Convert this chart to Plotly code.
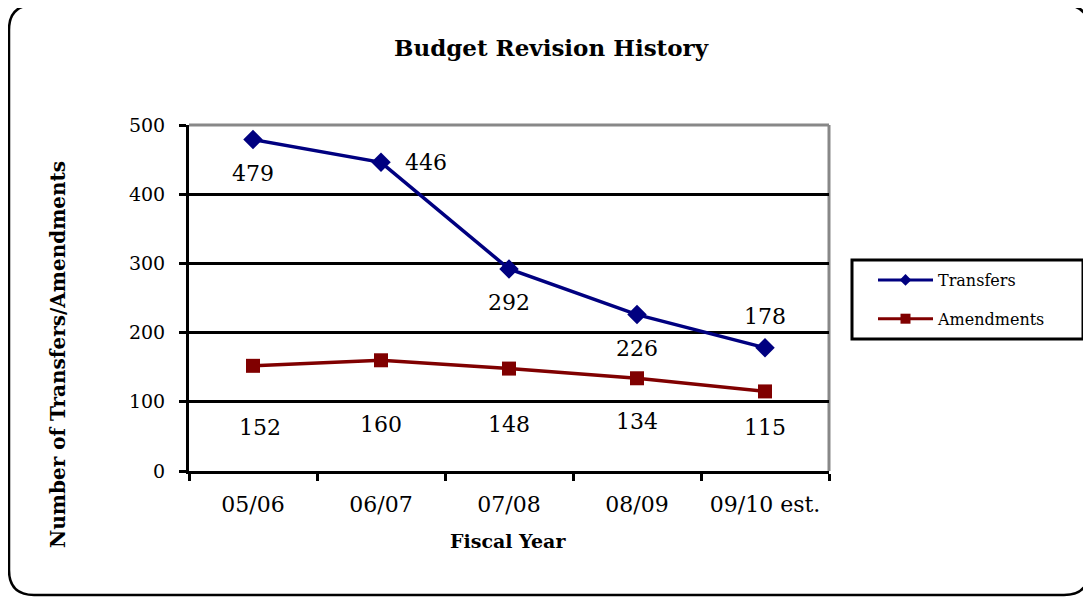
import plotly.graph_objects as go

years = ["05/06", "06/07", "07/08", "08/09", "09/10 est."]
transfers = [479, 446, 292, 226, 178]
amendments = [152, 160, 148, 134, 115]
y_ticks = [0, 100, 200, 300, 400, 500]

# label offsets in pixels (style only)
transfer_shift = [(0, -34), (45, 0), (0, -34), (0, -34), (0, 31)]
amend_shift = [(7, -62), (0, -64), (0, -56), (0, -43), (0, -36)]

FONT = "DejaVu Serif"
OFF = 8  # page body margin
W, H = 1091, 598
# plot area in screen pixels
L, R, T, B = 189, 829, 125, 471


def px(x):
    return (x - L) / (R - L)


def py(y):
    return (B - y) / (B - T)


fig = go.Figure()
fig.add_trace(go.Scatter(
    x=years, y=transfers, name="Transfers", mode="lines+markers",
    line=dict(color="#000080", width=3.5),
    marker=dict(symbol="diamond", size=15, color="#000080"),
    showlegend=False,
))
fig.add_trace(go.Scatter(
    x=years, y=amendments, name="Amendments", mode="lines+markers",
    line=dict(color="#800000", width=3.5),
    marker=dict(symbol="square", size=14, color="#800000"),
    showlegend=False,
))
# legend entries (smaller markers, like the reference)
fig.add_trace(go.Scatter(
    x=[None], y=[None], name="Transfers", mode="lines+markers",
    line=dict(color="#000080", width=3),
    marker=dict(symbol="diamond", size=9, color="#000080"),
    legendgroup="t",
))
fig.add_trace(go.Scatter(
    x=[None], y=[None], name="Amendments", mode="lines+markers",
    line=dict(color="#800000", width=3),
    marker=dict(symbol="square", size=10, color="#800000"),
    legendgroup="a",
))

annotations = []
for xv, yv, (dx, dy) in zip(years, transfers, transfer_shift):
    annotations.append(dict(x=xv, y=yv, text=str(yv), showarrow=False,
                            xshift=dx, yshift=dy,
                            font=dict(family=FONT, size=22, color="#000")))
for xv, yv, (dx, dy) in zip(years, amendments, amend_shift):
    annotations.append(dict(x=xv, y=yv, text=str(yv), showarrow=False,
                            xshift=dx, yshift=dy,
                            font=dict(family=FONT, size=22, color="#000")))

annotations.append(dict(xref="paper", yref="paper", x=px(58), y=py(355),
                        xanchor="center", yanchor="middle",
                        text="<b>Number of Transfers/Amendments</b>", textangle=-90,
                        showarrow=False, font=dict(family=FONT, size=20, color="#000")))
annotations.append(dict(xref="paper", yref="paper", x=px(508), y=py(541),
                        xanchor="center", yanchor="middle",
                        text="<b>Fiscal Year</b>",
                        showarrow=False, font=dict(family=FONT, size=19, color="#000")))

# rounded outer border
l, r, t, b = px(9), px(1089), py(5), py(595)
rx, ry = 25 / (R - L), 25 / (B - T)
path = (f"M {l+rx},{t} L {r-rx},{t} Q {r},{t} {r},{t-ry} "
        f"L {r},{b+ry} Q {r},{b} {r-rx},{b} "
        f"L {l+rx},{b} Q {l},{b} {l},{b+ry} "
        f"L {l},{t-ry} Q {l},{t} {l+rx},{t} Z")

shapes = [
    dict(type="path", xref="paper", yref="paper", path=path,
         line=dict(color="#000", width=2.5), layer="below"),
    # grey plot border top & right
    dict(type="line", xref="paper", yref="paper", x0=0, x1=1, y0=1, y1=1,
         line=dict(color="#888", width=3), layer="between"),
    dict(type="line", xref="paper", yref="paper", x0=1, x1=1, y0=0, y1=1,
         line=dict(color="#888", width=3), layer="between"),
    # legend box
    dict(type="rect", xref="paper", yref="paper", x0=px(852), x1=px(1083),
         y0=py(339), y1=py(260), line=dict(color="#000", width=3),
         fillcolor="rgba(0,0,0,0)"),
]

fig.update_layout(
    width=W, height=H,
    margin=dict(l=L - OFF, r=W - (R - OFF), t=T - OFF, b=H - (B - OFF)),
    paper_bgcolor="white", plot_bgcolor="white",
    title=dict(text="<b>Budget Revision History</b>", x=(551 - OFF) / W, xanchor="center",
               y=1 - (48 - OFF) / H, yanchor="middle",
               font=dict(family=FONT, size=23, color="#000")),
    showlegend=True,
    legend=dict(x=px(873), y=py(263), xanchor="left", yanchor="top",
                bgcolor="rgba(0,0,0,0)", borderwidth=0,
                font=dict(family=FONT, size=16, color="#000"),
                itemwidth=55, tracegroupgap=15),
    annotations=annotations,
    shapes=shapes,
    xaxis=dict(type="category", range=[-0.5, 4.5], showgrid=False,
               showline=True, linecolor="#000", linewidth=3,
               ticks="outside", tickson="boundaries", ticklen=7, tickwidth=3,
               tickcolor="#000",
               tickfont=dict(family=FONT, size=22, color="#000"),
               ticklabelstandoff=12, zeroline=False),
    yaxis=dict(range=[0, 500], tickvals=y_ticks, showgrid=True,
               gridcolor="#000", gridwidth=3,
               showline=True, linecolor="#000", linewidth=3,
               ticks="outside", ticklen=7, tickwidth=3, tickcolor="#000",
               tickfont=dict(family=FONT, size=19, color="#000"),
               ticklabelstandoff=10, zeroline=False),
)

fig.write_html("out.html")
